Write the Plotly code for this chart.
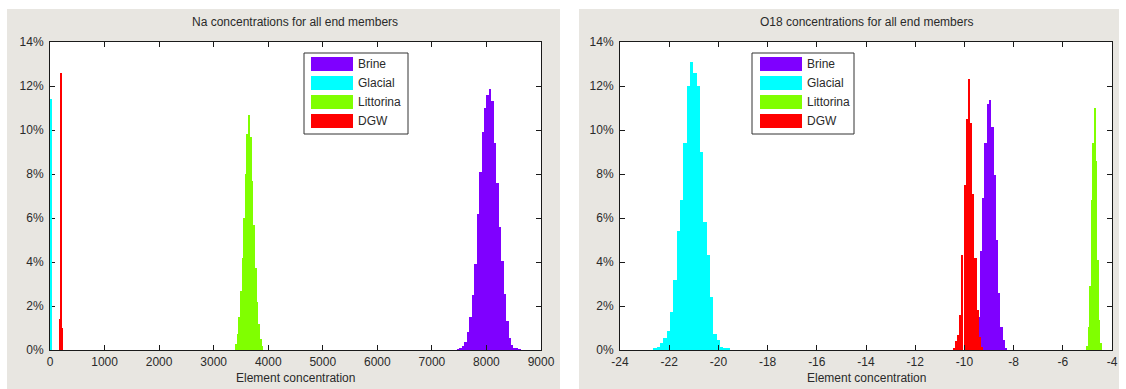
import plotly.graph_objects as go

W, H = 1126, 389

# ---------------- data ----------------
series_names = ["Brine", "Glacial", "Littorina", "DGW"]
series_colors = ["#7f00ff", "#00ffff", "#80ff00", "#ff0000"]

pct_ticks = [0, 2, 4, 6, 8, 10, 12, 14]
pct_labels = ["0%", "2%", "4%", "6%", "8%", "10%", "12%", "14%"]

na_ticks = [0, 1000, 2000, 3000, 4000, 5000, 6000, 7000, 8000, 9000]
na_labels = ["0", "1000", "2000", "3000", "4000", "5000", "6000", "7000", "8000", "9000"]

o18_ticks = [-24, -22, -20, -18, -16, -14, -12, -10, -8, -6, -4]
o18_labels = ["-24", "-22", "-20", "-18", "-16", "-14", "-12", "-10", "-8", "-6", "-4"]

na_brine_x = [7483, 7528, 7573, 7618, 7663, 7708, 7753, 7798, 7843, 7888, 7933, 7978, 8023,
              8068, 8113, 8158, 8203, 8248, 8293, 8338, 8383, 8428, 8473, 8518, 8563, 8608]
na_brine_w = 45
na_brine_pct = [0.03, 0.06, 0.2, 0.35, 0.8, 1.5, 2.5, 3.9, 6.2, 8.1, 9.9, 11.0, 11.6,
                11.85, 11.3, 9.4, 7.6, 5.6, 4.05, 2.55, 1.3, 0.56, 0.25, 0.1, 0.05, 0.02]

na_glacial_x = [10]
na_glacial_w = 20
na_glacial_pct = [11.4]

na_litt_x = [3415, 3445, 3475, 3505, 3535, 3565, 3595, 3625, 3655, 3685, 3715, 3745, 3775,
             3805, 3835, 3865, 3895]
na_litt_w = 30
na_litt_pct = [0.26, 0.73, 1.5, 2.7, 4.2, 6.0, 8.0, 9.8, 10.7, 9.7, 7.7, 5.7, 3.75,
               2.2, 1.2, 0.5, 0.2]

na_dgw_x = [182, 198, 214]
na_dgw_w = 16
na_dgw_pct = [1.4, 12.6, 1.0]

o18_brine_x = [-9.522, -9.428, -9.334, -9.240, -9.146, -9.052, -8.958, -8.864, -8.770,
               -8.676, -8.582, -8.488, -8.394, -8.300]
o18_brine_w = 0.094
o18_brine_pct = [0.45, 1.5, 4.5, 6.9, 9.4, 11.2, 11.36, 10.15, 7.95, 5.0, 2.6, 1.06, 0.45, 0.1]

o18_glacial_x = [-22.577, -22.442, -22.306, -22.171, -22.035, -21.900, -21.764, -21.629,
                 -21.493, -21.358, -21.222, -21.087, -20.951, -20.816, -20.680, -20.545,
                 -20.409, -20.274, -20.138, -20.003, -19.867, -19.732, -19.596]
o18_glacial_w = 0.1355
o18_glacial_pct = [0.05, 0.15, 0.3, 0.55, 0.85, 1.75, 3.2, 5.4, 6.8, 9.4, 12.0, 13.1,
                   12.6, 12.0, 9.0, 5.8, 4.3, 2.4, 0.75, 0.45, 0.15, 0.1, 0.05]

o18_litt_x = [-5.000, -4.939, -4.878, -4.817, -4.756, -4.695, -4.634, -4.573, -4.512, -4.451]
o18_litt_w = 0.061
o18_litt_pct = [0.2, 1.06, 2.9, 6.8, 9.4, 11.0, 8.6, 4.1, 1.36, 0.3]

o18_dgw_x = [-10.433, -10.345, -10.257, -10.169, -10.081, -9.992, -9.904, -9.816, -9.728,
             -9.640, -9.552, -9.464, -9.375, -9.287]
o18_dgw_w = 0.0881
o18_dgw_pct = [0.1, 0.4, 0.7, 1.6, 4.3, 7.5, 10.5, 12.3, 10.3, 7.1, 4.2, 1.8, 0.6, 0.15]

na_title = "Na concentrations for all end members"
o18_title = "O18 concentrations for all end members"
x_title = "Element concentration"

FONT = "Liberation Sans, Arial, Helvetica, sans-serif"
TXT = "#2a2a2a"
GRAY = "#e8e6e1"
FS = 12

fig = go.Figure()

na_sets = [(na_brine_x, na_brine_w, na_brine_pct),
           (na_glacial_x, na_glacial_w, na_glacial_pct),
           (na_litt_x, na_litt_w, na_litt_pct),
           (na_dgw_x, na_dgw_w, na_dgw_pct)]
o18_sets = [(o18_brine_x, o18_brine_w, o18_brine_pct),
            (o18_glacial_x, o18_glacial_w, o18_glacial_pct),
            (o18_litt_x, o18_litt_w, o18_litt_pct),
            (o18_dgw_x, o18_dgw_w, o18_dgw_pct)]

for (xs, w, ys), name, col in zip(na_sets, series_names, series_colors):
    fig.add_trace(go.Bar(x=xs, y=ys, width=w, name=name, marker=dict(color=col, line=dict(width=0)),
                         xaxis="x", yaxis="y", showlegend=False))
for (xs, w, ys), name, col in zip(o18_sets, series_names, series_colors):
    fig.add_trace(go.Bar(x=xs, y=ys, width=w, name=name, marker=dict(color=col, line=dict(width=0)),
                         xaxis="x2", yaxis="y2", showlegend=False))

# plot-area geometry (pixels)
L1, R1 = 50, 541
L2, R2 = 620, 1112
TOP, BOT = 42, 350

def px(v):
    return v / W

def py(v):
    return 1 - v / H

axis_common = dict(showline=True, linecolor="#1a1a1a", linewidth=1, mirror="ticks",
                   ticks="inside", ticklen=5, tickcolor="#1a1a1a", showgrid=False,
                   zeroline=False, fixedrange=True, automargin=False,
                   tickfont=dict(family=FONT, size=FS, color=TXT))

fig.update_layout(
    width=W, height=H,
    margin=dict(l=0, r=0, t=0, b=0, pad=0, autoexpand=False),
    paper_bgcolor="white", plot_bgcolor="white",
    barmode="overlay", bargap=0, showlegend=False,
    font=dict(family=FONT, size=FS, color=TXT),
    xaxis=dict(domain=[px(L1), px(R1)], range=[0, 9000], tickvals=na_ticks, ticktext=na_labels,
               anchor="y", ticklabelstandoff=1, **axis_common),
    yaxis=dict(domain=[py(BOT), py(TOP)], range=[0, 14], tickvals=pct_ticks, ticktext=pct_labels,
               anchor="x", ticklabelstandoff=3, layer="below traces", **axis_common),
    xaxis2=dict(domain=[px(L2), px(R2)], range=[-24, -4], tickvals=o18_ticks, ticktext=o18_labels,
                anchor="y2", ticklabelstandoff=1, **axis_common),
    yaxis2=dict(domain=[py(BOT), py(TOP)], range=[0, 14], tickvals=pct_ticks, ticktext=pct_labels,
                anchor="x2", ticklabelstandoff=3, **axis_common),
)

shapes = []
# grey figure panels
for x0, x1 in [(7, 560), (579, 1119)]:
    shapes.append(dict(type="rect", xref="paper", yref="paper", x0=px(x0), x1=px(x1),
                       y0=0, y1=py(9), fillcolor=GRAY, line=dict(width=0), layer="below"))
# white axes areas
for x0, x1 in [(L1, R1), (L2, R2)]:
    shapes.append(dict(type="rect", xref="paper", yref="paper", x0=px(x0), x1=px(x1),
                       y0=py(BOT), y1=py(TOP), fillcolor="white", line=dict(width=0), layer="below"))

annotations = []
for title, (a, b) in [(na_title, (L1, R1)), (o18_title, (L2, R2))]:
    annotations.append(dict(text=title, x=px((a + b) / 2), y=py(22), xref="paper", yref="paper",
                            showarrow=False, xanchor="center", yanchor="middle",
                            font=dict(size=FS, color=TXT)))
    annotations.append(dict(text=x_title, x=px((a + b) / 2), y=py(378), xref="paper", yref="paper",
                            showarrow=False, xanchor="center", yanchor="middle",
                            font=dict(size=FS, color=TXT)))

# legends (box, patches, labels)
for bx0, bx1, patch_x0 in [(304, 408, 311), (752, 854, 760)]:
    by0, by1 = 53, 134
    shapes.append(dict(type="rect", xref="paper", yref="paper", x0=px(bx0), x1=px(bx1),
                       y0=py(by1), y1=py(by0), fillcolor="white",
                       line=dict(color="#333333", width=1)))
    for i, (name, col) in enumerate(zip(series_names, series_colors)):
        cy = by0 + 11 + 19 * i
        shapes.append(dict(type="rect", xref="paper", yref="paper", x0=px(patch_x0),
                           x1=px(patch_x0 + 42), y0=py(cy + 7), y1=py(cy - 7),
                           fillcolor=col, line=dict(width=0)))
        annotations.append(dict(text=name, x=px(patch_x0 + 45), y=py(cy), xref="paper",
                                yref="paper", showarrow=False, xanchor="left",
                                yanchor="middle", font=dict(size=FS, color=TXT)))

fig.update_layout(shapes=shapes, annotations=annotations)

# the page body has a default 8px margin; remove it so the figure fills the window exactly
fig.write_html("out.html",
               post_script="document.body.style.margin='0';document.body.style.padding='0';")
